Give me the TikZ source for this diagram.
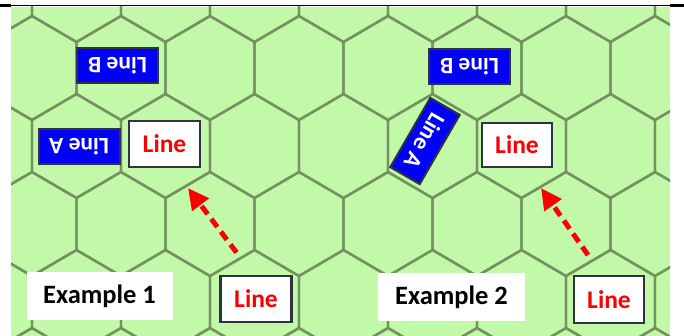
\documentclass[tikz,border=0pt]{standalone}
\usepackage{fontspec}
\setmainfont{Carlito}
\usetikzlibrary{arrows.meta}
\definecolor{hexfill}{RGB}{194,249,168}
\definecolor{hexline}{RGB}{116,146,96}
\definecolor{boxedge}{RGB}{45,52,62}
\definecolor{lineblue}{RGB}{0,0,250}
\definecolor{linered}{RGB}{250,0,0}
\tikzset{
  hexedge/.style={draw=hexline, line width=2.4pt, line join=round},
  bluebox/.style={draw=boxedge, fill=lineblue, line width=2pt, text=white, inner sep=0pt,
    font=\bfseries\fontsize{23.5}{27}\selectfont, minimum width=81pt, minimum height=35pt},
  redbox/.style={draw=boxedge, fill=white, line width=2.4pt, text=linered, inner sep=0pt,
    font=\bfseries\fontsize{25.5}{30}\selectfont, minimum width=71pt, minimum height=46pt},
  exbox/.style={fill=white, text=black, inner sep=0pt,
    font=\bfseries\fontsize{26.5}{30}\selectfont, minimum width=146pt, minimum height=48pt},
  movearrow/.style={draw=linered, line width=5pt, dash pattern=on 10pt off 6pt,
    -{Triangle[length=21pt,width=20pt]}}
}
\begin{document}
\begin{tikzpicture}[x=1pt,y=-1pt]
\useasboundingbox (0,0) rectangle (684,336);
\fill[white] (0,0) rectangle (684,336);
% green field with hex grid
\begin{scope}
  \clip (11,7) rectangle (670,336);
  \fill[hexfill] (11,7) rectangle (670,336);
  \foreach \r in {0,...,5}{
    \pgfmathsetmacro{\yc}{-10+78*\r}
    \pgfmathsetmacro{\xo}{76.5-44.5*mod(\r,2)}
    \foreach \k in {-1,...,8}{
      \pgfmathsetmacro{\xc}{\xo+89*\k}
      \draw[hexedge] (\xc,\yc-52) -- (\xc+44.5,\yc-26) -- (\xc+44.5,\yc+26)
        -- (\xc,\yc+52) -- (\xc-44.5,\yc+26) -- (\xc-44.5,\yc-26) -- cycle;
    }
  }
\end{scope}
% top rule
\draw[black, line width=1.6pt] (0,5.5) -- (684,5.5);
\draw[black, line width=3pt] (0,5.3) -- (11,5.3);
\draw[black, line width=3pt] (670,5.3) -- (684,5.3);
% Example 1
\node[bluebox, rotate=180] (b1) at (117.5,66) {Line B};
\node[bluebox, rotate=180] (a1) at (79,146.5) {Line A};
\node[redbox] (l1) at (164.5,144) {Line};
\node[exbox] (e1) at (99.5,296) {Example 1};
\node[redbox] (m1) at (256,299) {Line};
\coordinate (t1) at (236.5,252.5);
\coordinate (h1) at (188,188);
\draw[movearrow] (t1) -- (h1);
% Example 2
\node[bluebox, rotate=180] (b2) at (469.5,67) {Line B};
\node[bluebox, rotate=-120, minimum width=80pt, minimum height=34pt] (a2) at (425,141) {Line A};
\node[redbox, minimum width=70pt, minimum height=44pt] (l2) at (517,145) {Line};
\node[exbox, minimum width=147pt] (e2) at (451.5,297) {Example 2};
\node[redbox, minimum width=70pt, minimum height=47pt] (m2) at (609,299.5) {Line};
\coordinate (t2) at (588,255);
\coordinate (h2) at (541,188);
\draw[movearrow] (t2) -- (h2);
\end{tikzpicture}
\end{document}
